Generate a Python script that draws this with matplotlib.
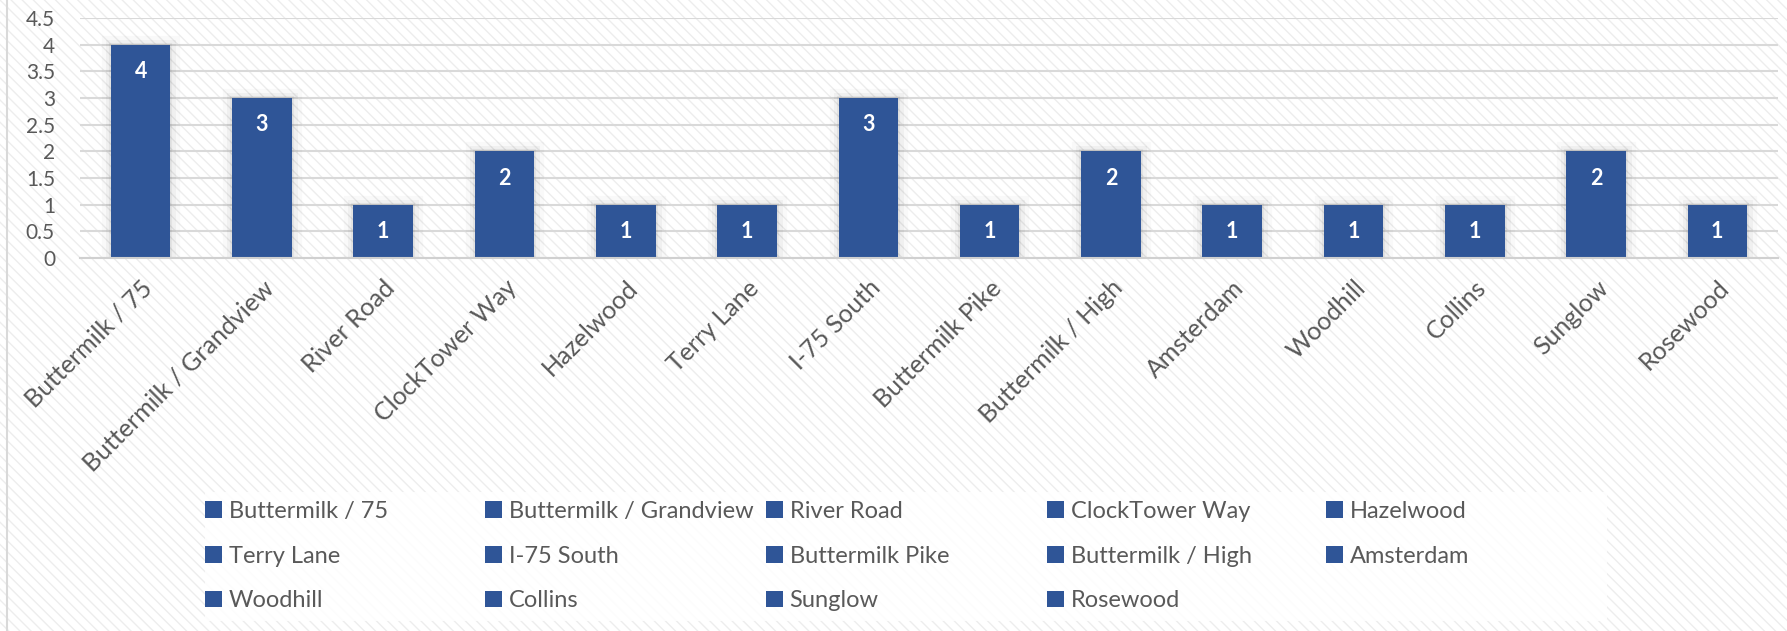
import matplotlib
matplotlib.use("Agg")
import matplotlib.pyplot as plt
import matplotlib.patheffects as pe
from matplotlib.patches import Rectangle, Patch

plt.rcParams['font.family'] = ['Lato', 'DejaVu Sans']

streets = ['Buttermilk / 75', 'Buttermilk / Grandview', 'River Road', 'ClockTower Way',
           'Hazelwood', 'Terry Lane', 'I-75 South', 'Buttermilk Pike', 'Buttermilk / High',
           'Amsterdam', 'Woodhill', 'Collins', 'Sunglow', 'Rosewood']
counts = [4, 3, 1, 2, 1, 1, 3, 1, 2, 1, 1, 1, 2, 1]
yticks = [0, 0.5, 1, 1.5, 2, 2.5, 3, 3.5, 4, 4.5]

blue = '#2F5597'
txt = '#595959'

fig = plt.figure(figsize=(17.87, 6.31), dpi=100)

# striped background
bg = Rectangle((0, 0), 1, 1, transform=fig.transFigure, facecolor='white',
               edgecolor='#ededed', linewidth=0, hatch='\\\\\\', zorder=-10)
fig.patches.append(bg)
fig.add_artist(plt.Line2D([7 / 1787, 7 / 1787], [0, 1], color='#d9d9d9', lw=1.5,
                          transform=fig.transFigure))

ax = fig.add_axes([80 / 1787, 1 - 258 / 631, (1778 - 80) / 1787, 240 / 631])
ax.set_facecolor('none')

x = range(len(streets))
# soft glow around the bars
glow = [pe.Stroke(linewidth=14, foreground='black', alpha=0.025),
        pe.Stroke(linewidth=8, foreground='black', alpha=0.035),
        pe.Stroke(linewidth=3, foreground='black', alpha=0.05),
        pe.Normal()]
ax.bar(x, counts, width=0.49, color=blue, edgecolor=blue, linewidth=0, zorder=3,
       path_effects=glow)
for xi, v in zip(x, counts):
    ax.annotate(str(v), (xi, v), xytext=(0, -27), textcoords='offset pixels',
                ha='center', va='center', color='white', fontweight='bold',
                fontsize=15.5, zorder=4)

ax.set_xlim(-0.5, len(streets) - 0.5)
ax.set_ylim(0, 4.5)
ax.set_yticks(yticks)
ax.set_yticklabels([f'{t:g}' for t in yticks])
ax.yaxis.grid(True, color='#d9d9d9', lw=1.5, zorder=0)
ax.set_xticks(list(x))
ax.set_xticklabels(streets, rotation=45, ha='right', va='top', rotation_mode='anchor')
ax.tick_params(axis='both', length=0, colors=txt)
ax.tick_params(axis='x', pad=13, labelsize=18)
ax.tick_params(axis='y', pad=18, labelsize=15)
for s in ['top', 'right', 'left']:
    ax.spines[s].set_visible(False)
ax.spines['bottom'].set_color('#d0d0d0')
ax.spines['bottom'].set_linewidth(1.5)
ax.spines['bottom'].set_zorder(5)

# legend box
lx0, lx1, ly0, ly1 = 205 / 1787, 1607 / 1787, 1 - 621 / 631, 1 - 492 / 631
fig.patches.append(Rectangle((lx0, ly0), lx1 - lx0, ly1 - ly0, transform=fig.transFigure,
                             facecolor='white', edgecolor='none', alpha=0.85, zorder=-5))

ncol = 5
col_x = [205, 485, 766, 1047, 1326]
for c in range(ncol):
    idx = list(range(c, len(streets), ncol))
    handles = [Patch(facecolor=blue) for _ in idx]
    leg = fig.legend(handles, [streets[i] for i in idx], loc='upper left',
                     bbox_to_anchor=(col_x[c] / 1787, 1 - 501 / 631), frameon=False,
                     fontsize=17, handlelength=0.7, handleheight=0.7, handletextpad=0.3,
                     labelspacing=1.0, borderpad=0, borderaxespad=0)
    for t in leg.get_texts():
        t.set_color(txt)

fig.savefig('out.png', dpi=100)
